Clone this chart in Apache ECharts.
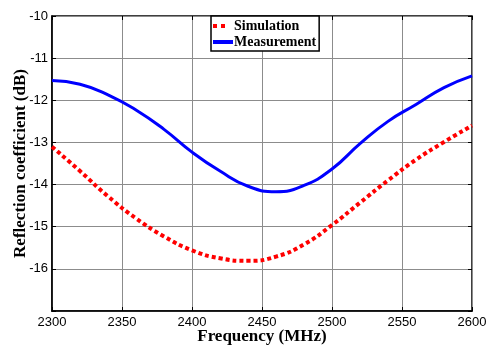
<!DOCTYPE html>
<html>
<head>
<meta charset="utf-8">
<script src="https://cdn.jsdelivr.net/npm/echarts@6/dist/echarts.min.js"></script>
<style>
  html, body { margin: 0; padding: 0; background: #fff; }
  #chart { width: 486px; height: 345px; }
</style>
</head>
<body>
<div id="chart"></div>
<script>
// frequency in MHz, reflection coefficient in dB
const freqs = [2300, 2320, 2340, 2360, 2380, 2400, 2420, 2440, 2460, 2480, 2500, 2520, 2540, 2560, 2580, 2600];
const simulation = [-13.1, -13.68, -14.28, -14.8, -15.23, -15.56, -15.75, -15.81, -15.71, -15.42, -14.96, -14.43, -13.9, -13.41, -12.99, -12.6];
const measurement = [-11.53, -11.62, -11.87, -12.23, -12.69, -13.23, -13.68, -14.04, -14.17, -14.02, -13.63, -13.03, -12.5, -12.1, -11.7, -11.42];
const yTicks = [-10, -11, -12, -13, -14, -15, -16];

const toPairs = (ys) => freqs.map((f, i) => [f, ys[i]]);

const myChart = echarts.init(document.getElementById('chart'));
const labelFont = { fontFamily: 'Liberation Sans', fontSize: 13, color: '#000' };
const titleFont = { fontFamily: 'Liberation Serif', fontSize: 17, fontWeight: 'bold', color: '#000' };
const gridLine = { show: true, lineStyle: { color: '#8c8c8c', width: 1 } };
const inTick = { inside: true, length: 4, lineStyle: { color: '#000' } };

myChart.setOption({
    animation: false,
    grid: {
        left: 52, right: 14, top: 16, bottom: 34,
        outerBoundsMode: 'none',
        show: true, borderColor: '#000', borderWidth: 1.5
    },
    legend: {
        left: 211,
        top: 16,
        orient: 'vertical',
        backgroundColor: '#fff',
        borderColor: '#000',
        borderWidth: 1.5,
        padding: [3, 3, 2, 2],
        itemGap: 2,
        itemWidth: 20,
        itemHeight: 4,
        textStyle: { fontFamily: 'Liberation Serif', fontSize: 14, fontWeight: 'bold', color: '#000', padding: [0, 0, 0, -4] },
        data: [
            { name: 'Simulation', icon: 'path://M0,0h4v4h-4zM8,0h4v4h-4zM19.9,0h0.1v0.1h-0.1z', itemStyle: { color: '#ff0000' } },
            { name: 'Measurement', icon: 'rect', itemStyle: { color: '#0000ff' } }
        ]
    },
    xAxis: [{
        type: 'value',
        min: 2300,
        max: 2600,
        interval: 50,
        name: 'Frequency (MHz)',
        nameLocation: 'middle',
        nameGap: 17,
        nameMoveOverlap: false,
        nameTextStyle: titleFont,
        axisLine: { show: true, lineStyle: { color: '#000', width: 1.5 } },
        axisTick: inTick,
        axisLabel: Object.assign({ margin: 5, formatter: (v) => String(v) }, labelFont),
        splitLine: gridLine
    }, {
        type: 'value',
        position: 'top',
        min: 2300,
        max: 2600,
        interval: 50,
        axisLine: { show: false },
        axisTick: inTick,
        axisLabel: { show: false },
        splitLine: { show: false }
    }],
    yAxis: [{
        type: 'value',
        min: -17,
        max: -10,
        interval: 1,
        name: 'Reflection coefficient (dB)',
        nameLocation: 'middle',
        nameGap: 23,
        nameMoveOverlap: false,
        nameTextStyle: titleFont,
        axisLine: { show: true, lineStyle: { color: '#000', width: 1.5 } },
        axisTick: inTick,
        axisLabel: Object.assign({
            margin: 4,
            formatter: (v) => yTicks.indexOf(v) >= 0 ? String(v) : ''
        }, labelFont),
        splitLine: gridLine
    }, {
        type: 'value',
        position: 'right',
        min: -17,
        max: -10,
        interval: 1,
        axisLine: { show: false },
        axisTick: inTick,
        axisLabel: { show: false },
        splitLine: { show: false }
    }],
    series: [
        {
            name: 'Simulation',
            type: 'line',
            smooth: true,
            symbol: 'none',
            color: '#ff0000',
            lineStyle: { width: 4, type: [4, 3], color: '#ff0000', cap: 'butt' },
            data: toPairs(simulation),
            z: 3
        },
        {
            name: 'Measurement',
            type: 'line',
            smooth: true,
            symbol: 'none',
            color: '#0000ff',
            lineStyle: { width: 3, color: '#0000ff' },
            data: toPairs(measurement),
            z: 3
        }
    ]
});
</script>
</body>
</html>
